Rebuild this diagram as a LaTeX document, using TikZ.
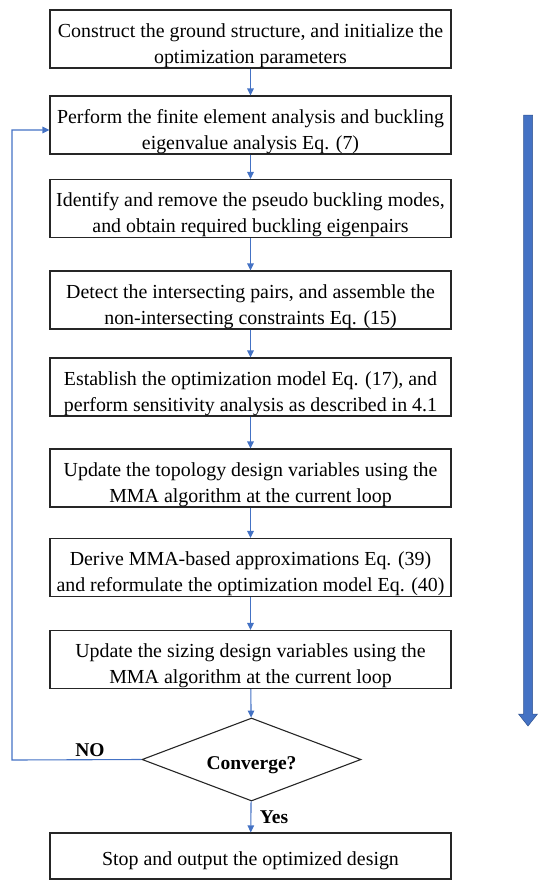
\documentclass[tikz,border=0pt]{standalone}
\usepackage{fontspec}
\setmainfont{Liberation Serif}
\usetikzlibrary{arrows.meta,shapes.geometric}
\definecolor{lblue}{RGB}{68,114,196}
\definecolor{dblue}{RGB}{47,82,143}
\newcommand\tp{\rule{0pt}{26.5pt}}
\newcommand\tq{\rule{0pt}{23.5pt}}
\begin{document}
\begin{tikzpicture}[x=1pt,y=-1pt,
  stepbox/.style={draw=black!85,line width=1.1pt,minimum width=401pt,minimum height=58pt,align=center,inner sep=0pt,
    font=\fontsize{19.9}{26}\selectfont},
  conn/.style={draw=lblue,line width=1.1pt,-{Triangle[length=7pt,width=6.5pt]}},
  lbl/.style={font=\fontsize{19.5}{22}\selectfont\bfseries}]
\useasboundingbox (0,0) rectangle (550,892);
\node[stepbox] (b1) at (250.5,39) {\tp Construct the ground structure, and initialize the\\optimization parameters};
\node[stepbox] (b2) at (250.5,125) {\tp Perform the finite element analysis and buckling\\eigenvalue analysis Eq. (7)};
\node[stepbox] (b3) at (250.5,208.5) {\tp Identify and remove the pseudo buckling modes,\\and obtain required buckling eigenpairs};
\node[stepbox] (b4) at (250.5,300) {\tp Detect the intersecting pairs, and assemble the\\non-intersecting constraints Eq. (15)};
\node[stepbox] (b5) at (250.5,387) {\tp Establish the optimization model Eq. (17), and\\perform sensitivity analysis as described in 4.1};
\node[stepbox] (b6) at (250.5,478) {\tp Update the topology design variables using the\\MMA algorithm at the current loop};
\node[stepbox] (b7) at (250.5,567.5) {\tp Derive MMA-based approximations Eq. (39)\\and reformulate the optimization model Eq. (40)};
\node[stepbox] (b8) at (250.5,659.5) {\tp Update the sizing design variables using the\\MMA algorithm at the current loop};
\node[diamond,draw=black!85,line width=1.1pt,minimum width=219pt,minimum height=83pt,aspect=2.64,inner sep=0pt,
  font=\fontsize{19.5}{22}\selectfont\bfseries] (d) at (251.5,759.5) {\tq Converge?};
\node[stepbox,minimum height=46pt] (b9) at (250.5,856) {\tq Stop and output the optimized design};
\draw[conn] (b1) -- (b2);
\draw[conn] (b2) -- (b3);
\draw[conn] (b3) -- (b4);
\draw[conn] (b4) -- (b5);
\draw[conn] (b5) -- (b6);
\draw[conn] (b6) -- (b7);
\draw[conn] (b7) -- (b8);
\draw[conn] (b8) -- (d);
\draw[conn] (d) -- (b9);
\coordinate (lb) at (12,760);
\coordinate (lt) at (12,130);
\draw[conn] (d.west) -- (lb) -- (lt) -- (b2.west |- lt);
\node[lbl] (no) at (90,750) {NO};
\node[lbl] (yes) at (274,817) {Yes};
\fill[lblue,draw=dblue,line width=0.5pt] (523.5,115) -- (532.5,115) -- (532.5,714) -- (537.5,714) -- (528,726) -- (518.5,714) -- (523.5,714) -- cycle;
\end{tikzpicture}
\end{document}
